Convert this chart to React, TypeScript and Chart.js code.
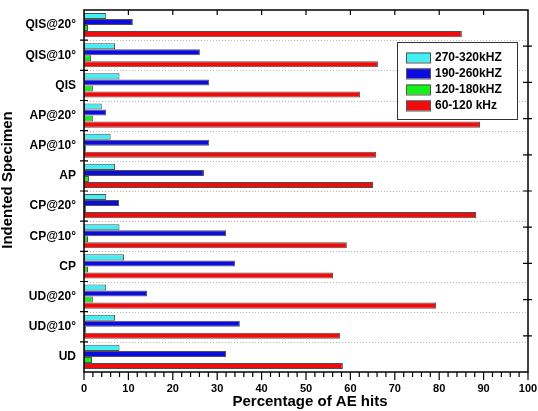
import React, { useEffect, useRef } from "react";
import { Chart, registerables } from "chart.js";

Chart.register(...registerables);

// Specimens, listed top to bottom
const specimens = [
  "QIS@20°", "QIS@10°", "QIS",
  "AP@20°", "AP@10°", "AP",
  "CP@20°", "CP@10°", "CP",
  "UD@20°", "UD@10°", "UD",
];

// Percentage of AE hits per frequency band
const band270to320 = [5, 7, 8, 4, 6, 7, 5, 8, 9, 5, 7, 8];
const band190to260 = [11, 26.1, 28.2, 5, 28.2, 27, 7.9, 32, 34, 14.2, 35.1, 32];
const band120to180 = [0.9, 1.6, 2.0, 2.0, 0.5, 1.1, 0.5, 0.9, 0.9, 2.0, 0.5, 1.8];
const band60to120 = [85.1, 66.2, 62.2, 89.2, 65.8, 65.1, 88.3, 59.2, 56.1, 79.3, 57.7, 58.3];

const bandLabels = ["270-320kHZ", "190-260kHZ", "120-180kHZ", "60-120 kHz"];
const bandColors = ["#44eef2", "#0c0cde", "#18ee18", "#f00c0c"];

const xTickValues = [0, 10, 20, 30, 40, 50, 60, 70, 80, 90, 100];

const FONT = "'Liberation Sans', Arial, sans-serif";

// dotted separators between specimen groups
const gridPlugin = {
  id: "dottedGrid",
  beforeDatasetsDraw(chart: any) {
    const { ctx, chartArea } = chart;
    const { left, right, top, bottom } = chartArea;
    const n = specimens.length;
    const step = (bottom - top) / n;
    ctx.save();
    ctx.strokeStyle = "#b8b8b8";
    ctx.lineWidth = 1;
    ctx.setLineDash([1, 2]);
    ctx.beginPath();
    for (let i = 1; i < n; i++) {
      const py = Math.round(top + i * step) + 0.5;
      ctx.moveTo(left, py);
      ctx.lineTo(right, py);
    }
    ctx.stroke();
    ctx.restore();
  },
};

const axesPlugin = {
  id: "axesFrame",
  afterDatasetsDraw(chart: any) {
    const { ctx, chartArea } = chart;
    const { left, right, top, bottom } = chartArea;
    const x = chart.scales.x;
    ctx.save();
    ctx.strokeStyle = "#000";
    ctx.lineWidth = 1.5;
    ctx.strokeRect(left, top, right - left, bottom - top);

    ctx.lineWidth = 1.2;
    ctx.beginPath();
    // bottom axis: major every 10, minor every 2
    for (let v = 0; v <= 100; v += 2) {
      const px = x.getPixelForValue(v);
      const len = v % 10 === 0 ? 8 : 5;
      ctx.moveTo(px, bottom);
      ctx.lineTo(px, bottom + len);
    }
    // top axis: inward majors
    for (let v = 10; v < 100; v += 10) {
      const px = x.getPixelForValue(v);
      ctx.moveTo(px, top);
      ctx.lineTo(px, top + 5);
    }
    // left axis: ticks on category boundaries
    const n = specimens.length;
    const step = (bottom - top) / n;
    for (let i = 1; i < n; i++) {
      const py = top + i * step;
      ctx.moveTo(left - 4, py);
      ctx.lineTo(left + 4, py);
    }
    // right axis: ten divisions
    for (let i = 1; i < 10; i++) {
      const py = top + (i * (bottom - top)) / 10;
      ctx.moveTo(right - 5, py);
      ctx.lineTo(right + 4, py);
    }
    ctx.stroke();

    // axis titles
    ctx.fillStyle = "#000";
    ctx.font = `bold 15px ${FONT}`;
    ctx.textAlign = "center";
    ctx.textBaseline = "middle";
    ctx.fillText("Percentage of AE hits", 310, 402);
    ctx.save();
    ctx.translate(8, 180);
    ctx.rotate(-Math.PI / 2);
    ctx.fillText("Indented Specimen", 0, 0);
    ctx.restore();

    // legend box
    const bx = 397, by = 42, bw = 120, bh = 77;
    ctx.fillStyle = "#fff";
    ctx.fillRect(bx, by, bw, bh);
    ctx.strokeStyle = "#333";
    ctx.lineWidth = 1;
    ctx.strokeRect(bx + 0.5, by + 0.5, bw, bh);
    ctx.font = `bold 12px ${FONT}`;
    ctx.textAlign = "left";
    chart.data.datasets.forEach((ds: any, i: number) => {
      const cy = 57.5 + i * 16;
      ctx.fillStyle = ds.backgroundColor;
      ctx.fillRect(406, cy - 5, 25, 10);
      ctx.strokeStyle = "#555";
      ctx.strokeRect(406.5, cy - 4.5, 24, 10);
      ctx.fillStyle = "#000";
      ctx.fillText(ds.label, 435, cy + 0.5);
    });
    ctx.restore();
  },
};

export default function App() {
  const canvasRef = useRef<HTMLCanvasElement | null>(null);

  useEffect(() => {
    const canvas = canvasRef.current;
    if (!canvas) return;
    const series = [band270to320, band190to260, band120to180, band60to120];
    const chart = new Chart(canvas, {
      type: "bar",
      data: {
        labels: specimens,
        datasets: series.map((values, i) => ({
          label: bandLabels[i],
          data: values,
          backgroundColor: bandColors[i],
          borderColor: "#505050",
          borderWidth: 1,
          borderSkipped: false,
          barPercentage: 1,
          categoryPercentage: 0.8,
        })),
      },
      options: {
        indexAxis: "y",
        responsive: false,
        animation: false,
        layout: { padding: { top: 10, right: 10, left: 0, bottom: 0 } },
        plugins: {
          legend: { display: false },
          tooltip: { enabled: false },
        },
        scales: {
          x: {
            type: "linear",
            min: 0,
            max: 100,
            afterFit: (s: any) => {
              s.height = 39;
              s.paddingLeft = 0;
              s.paddingRight = 0;
            },
            afterBuildTicks: (s: any) => {
              s.ticks = xTickValues.map((v) => ({ value: v }));
            },
            grid: { display: false, drawTicks: false },
            border: { display: false },
            ticks: {
              padding: 10,
              color: "#000",
              font: { family: FONT, size: 11, weight: "bold" },
            },
          },
          y: {
            type: "category",
            offset: true,
            afterFit: (s: any) => {
              s.width = 84;
              s.paddingTop = 0;
              s.paddingBottom = 0;
            },
            grid: { display: false, drawTicks: false },
            border: { display: false },
            ticks: {
              padding: 8,
              color: "#000",
              font: { family: FONT, size: 12, weight: "bold" },
            },
          },
        },
      },
      plugins: [gridPlugin, axesPlugin],
    } as any);
    return () => chart.destroy();
  }, []);

  return (
    <div style={{ position: "fixed", left: 0, top: 0, width: 538, height: 411, background: "#fff" }}>
      <canvas ref={canvasRef} width={538} height={411} style={{ display: "block" }} />
    </div>
  );
}
